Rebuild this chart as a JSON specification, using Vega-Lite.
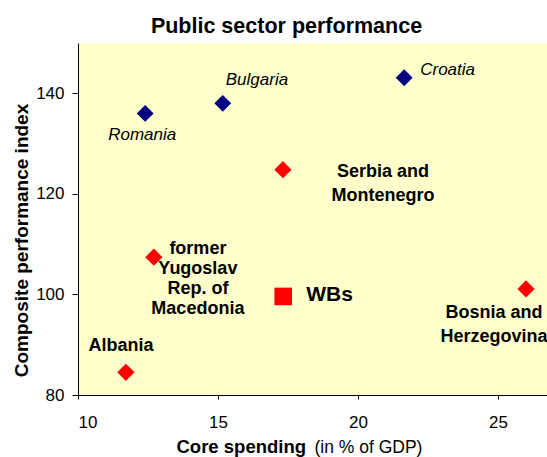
{
  "$schema": "https://vega.github.io/schema/vega-lite/v6.json",
  "width": 469,
  "height": 352,
  "autosize": "none",
  "padding": {"left": 78, "top": 43, "right": 0, "bottom": 62},
  "background": "white",
  "title": {
    "text": "Public sector performance",
    "font": "Liberation Sans",
    "fontSize": 21.5,
    "fontWeight": "bold",
    "color": "black",
    "anchor": "middle",
    "frame": "group",
    "dx": -26,
    "baseline": "alphabetic",
    "offset": -11
  },
  "config": {
    "view": {"fill": "#FFFFCC", "stroke": null},
    "font": "Liberation Sans",
    "axis": {
      "grid": false,
      "domainColor": "black",
      "tickColor": "black",
      "labelColor": "black",
      "titleColor": "black",
      "labelFont": "Liberation Sans",
      "titleFont": "Liberation Sans",
      "labelFontSize": 17
    }
  },
  "data": {
    "values": [
      {"country": "Romania", "label": "Romania", "spending": 12.40, "index": 136.0, "group": "Other"},
      {"country": "Bulgaria", "label": "Bulgaria", "spending": 15.17, "index": 138.0, "group": "Other"},
      {"country": "Croatia", "label": "Croatia", "spending": 21.65, "index": 143.1, "group": "Other"},
      {"country": "Serbia and Montenegro", "label": "Serbia and\nMontenegro", "spending": 17.32, "index": 124.8, "group": "Western Balkans"},
      {"country": "FYR Macedonia", "label": "former\nYugoslav\nRep. of\nMacedonia", "spending": 12.71, "index": 107.4, "group": "Western Balkans"},
      {"country": "WBs", "label": "WBs", "spending": 17.33, "index": 99.6, "group": "WBs average"},
      {"country": "Bosnia and Herzegovina", "label": "Bosnia and\nHerzegovina", "spending": 26.0, "index": 101.1, "group": "Western Balkans"},
      {"country": "Albania", "label": "Albania", "spending": 11.71, "index": 84.5, "group": "Western Balkans"}
    ]
  },
  "encoding": {
    "y": {
      "field": "index",
      "type": "quantitative",
      "scale": {"domain": [80, 150], "nice": false, "zero": false},
      "axis": {
        "values": [80, 100, 120, 140],
        "tickSize": 6,
        "labelPadding": 8,
        "title": "Composite performance index",
        "titleFontSize": 19,
        "titleFontWeight": "bold",
        "titleAngle": 270,
        "titleAlign": "center",
        "titleBaseline": "alphabetic",
        "titleX": -51,
        "titleY": 197
      }
    }
  },
  "layer": [
    {
      "mark": {"type": "point", "filled": true, "opacity": 1, "strokeWidth": 0},
      "encoding": {
        "x": {
          "field": "spending",
          "type": "quantitative",
          "scale": {"domain": [10, 26.75], "nice": false, "zero": false},
          "axis": {
            "orient": "bottom",
            "values": [10, 15, 20, 25],
            "tickSize": 4,
            "labelPadding": 15,
            "title": "Core spending",
            "titleFontSize": 18.5,
            "titleFontWeight": "bold",
            "titleAlign": "left",
            "titleBaseline": "alphabetic",
            "titleX": 98,
            "titleY": 57
          }
        },
        "color": {
          "field": "group",
          "type": "nominal",
          "scale": {"domain": ["Other", "Western Balkans", "WBs average"], "range": ["#000080", "#FF0000", "#FF0000"]},
          "legend": null
        },
        "shape": {
          "field": "group",
          "type": "nominal",
          "scale": {"domain": ["Other", "Western Balkans", "WBs average"], "range": ["diamond", "diamond", "square"]},
          "legend": null
        },
        "size": {
          "field": "group",
          "type": "nominal",
          "scale": {"domain": ["Other", "Western Balkans", "WBs average"], "range": [285, 310, 625]},
          "legend": null
        }
      }
    },
    {
      "encoding": {
        "x": {
          "field": "spending",
          "type": "quantitative",
          "scale": {"domain": [10, 26.75], "nice": false, "zero": false},
          "axis": {
            "orient": "bottom",
            "labels": false,
            "ticks": false,
            "domain": false,
            "title": "(in % of GDP)",
            "titleFontSize": 17.5,
            "titleFontWeight": "normal",
            "titleAlign": "left",
            "titleBaseline": "alphabetic",
            "titleX": 236,
            "titleY": 57
          }
        },
        "text": {"field": "label", "type": "nominal"}
      },
      "layer": [
        {
          "transform": [{"filter": "datum.country === 'Romania'"}],
          "mark": {"type": "text", "font": "Liberation Sans", "fontSize": 17, "fontStyle": "italic", "color": "black", "align": "center", "baseline": "middle", "dx": -3, "dy": 22}
        },
        {
          "transform": [{"filter": "datum.country === 'Bulgaria'"}],
          "mark": {"type": "text", "font": "Liberation Sans", "fontSize": 17, "fontStyle": "italic", "color": "black", "align": "left", "baseline": "middle", "dx": 3, "dy": -23}
        },
        {
          "transform": [{"filter": "datum.country === 'Croatia'"}],
          "mark": {"type": "text", "font": "Liberation Sans", "fontSize": 17, "fontStyle": "italic", "color": "black", "align": "left", "baseline": "middle", "dx": 16, "dy": -8}
        },
        {
          "transform": [{"filter": "datum.country === 'Serbia and Montenegro'"}],
          "mark": {"type": "text", "font": "Liberation Sans", "fontSize": 18, "fontWeight": "bold", "color": "black", "align": "center", "baseline": "middle", "lineBreak": "\n", "lineHeight": 24, "dx": 100, "dy": 2}
        },
        {
          "transform": [{"filter": "datum.country === 'FYR Macedonia'"}],
          "mark": {"type": "text", "font": "Liberation Sans", "fontSize": 18, "fontWeight": "bold", "color": "black", "align": "center", "baseline": "middle", "lineBreak": "\n", "lineHeight": 19.8, "dx": 44, "dy": -8}
        },
        {
          "transform": [{"filter": "datum.country === 'WBs'"}],
          "mark": {"type": "text", "font": "Liberation Sans", "fontSize": 21, "fontWeight": "bold", "color": "black", "align": "left", "baseline": "middle", "dx": 23, "dy": -1}
        },
        {
          "transform": [{"filter": "datum.country === 'Bosnia and Herzegovina'"}],
          "mark": {"type": "text", "font": "Liberation Sans", "fontSize": 18, "fontWeight": "bold", "color": "black", "align": "center", "baseline": "middle", "lineBreak": "\n", "lineHeight": 24, "dx": -32, "dy": 24, "clip": false}
        },
        {
          "transform": [{"filter": "datum.country === 'Albania'"}],
          "mark": {"type": "text", "font": "Liberation Sans", "fontSize": 18, "fontWeight": "bold", "color": "black", "align": "center", "baseline": "middle", "dx": -5, "dy": -26}
        }
      ]
    }
  ],
  "resolve": {"axis": {"x": "independent"}}
}
